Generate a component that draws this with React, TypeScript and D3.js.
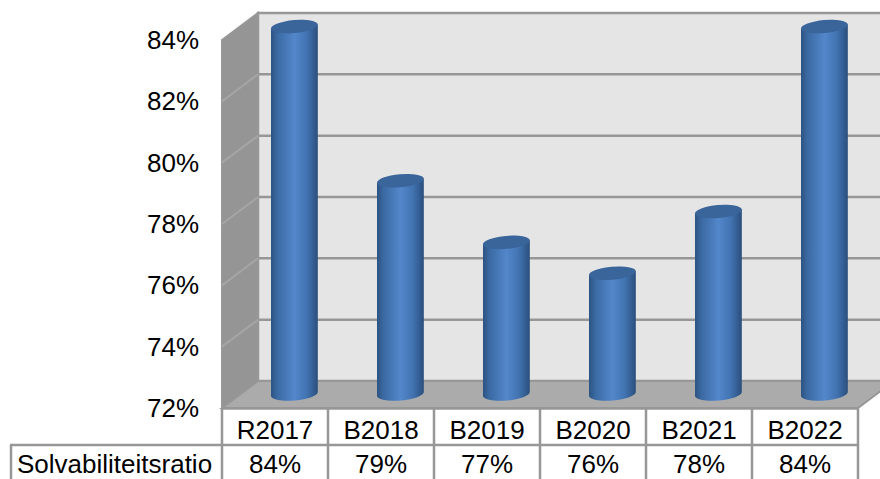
import React from "react";
import * as d3 from "d3";

// data
const categories = ["R2017", "B2018", "B2019", "B2020", "B2021", "B2022"];
const ratios = [84, 79, 77, 76, 78, 84];
const seriesName = "Solvabiliteitsratio";
const yTicks = [72, 74, 76, 78, 80, 82, 84];

const width = 880;
const height = 479;
const fontFamily = "'Liberation Sans', Arial, sans-serif";
const fontSize = 26;

// 3d offset of the back wall
const depthX = 36;
const depthY = -27;

const lineColor = "#979797";

const x = d3.scaleBand<string>().domain(categories).range([222, 858]);
const y = d3.scaleLinear().domain([72, 84]).range([408, 40]);
// the cylinders stand in the middle of the floor, their scale is a bit steeper
const yBar = d3.scaleLinear().domain([72, 84]).range([396.5, 26.6]);

const barWidth = 47;
const capRy = 6.5;
const capTilt = -5;

export default function App() {
  document.body.style.margin = "0";

  const pts = (p: number[][]) => p.map((d) => d.join(",")).join(" ");
  const left = x.range()[0];
  const right = x.range()[1];
  const top = y(84);
  const bottom = y(72);

  const rowY = [bottom + 0.5, bottom + 37, height + 4];

  return (
    <svg width={width} height={height} style={{ display: "block", background: "#fff" }} fontFamily={fontFamily}>
      <defs>
        <linearGradient id="cyl" x1="0" x2="1" y1="0" y2="0">
          <stop offset="0" stopColor="#2c5382" />
          <stop offset="0.14" stopColor="#3b6aa3" />
          <stop offset="0.5" stopColor="#5387cb" />
          <stop offset="0.76" stopColor="#4274b2" />
          <stop offset="1" stopColor="#2a4f7c" />
        </linearGradient>
      </defs>

      {/* walls */}
      <polygon
        points={pts([[left + depthX, top + depthY], [right + depthX, top + depthY], [right + depthX, bottom + depthY], [left + depthX, bottom + depthY]])}
        fill="#e5e5e5"
        stroke={lineColor}
        strokeWidth={2.5}
      />
      <polygon
        points={pts([[left, top], [left + depthX, top + depthY], [left + depthX, bottom + depthY], [left, bottom]])}
        fill="#959595"
        stroke={lineColor}
        strokeWidth={2}
      />
      <polygon
        points={pts([[left, bottom], [left + depthX, bottom + depthY], [right + depthX, bottom + depthY], [right, bottom]])}
        fill="#ababab"
        stroke={lineColor}
        strokeWidth={2}
      />

      {/* gridlines */}
      {yTicks.slice(1, -1).map((t) => (
        <g key={t} stroke={lineColor} strokeWidth={2.5} fill="none">
          <line x1={left + depthX} x2={right + depthX} y1={y(t) + depthY} y2={y(t) + depthY} />
          <line x1={left} x2={left + depthX} y1={y(t)} y2={y(t) + depthY} stroke="#a5a5a5" strokeWidth={2} />
        </g>
      ))}

      {/* y labels */}
      {yTicks.map((t) => (
        <text key={t} x={199} y={y(t)} dy="0.35em" textAnchor="end" fontSize={fontSize} fill="#000">
          {t}%
        </text>
      ))}

      {/* cylinders */}
      {categories.map((c, i) => {
        const cx = (x(c) as number) + x.bandwidth() / 2 + depthX / 2 + 1.4;
        const yTop = yBar(ratios[i]);
        const yBase = y(72) + depthY / 2 - 0.5;
        const r = barWidth / 2;
        const dy = r * Math.sin((-capTilt * Math.PI) / 180);
        const dx = r * Math.cos((-capTilt * Math.PI) / 180);
        const body =
          `M${cx - dx},${yTop + dy} L${cx - dx},${yBase + dy} ` +
          `A${r},${capRy} ${capTilt} 0 0 ${cx + dx},${yBase - dy} L${cx + dx},${yTop - dy} Z`;
        return (
          <g key={c}>
            <path d={body} fill="url(#cyl)" />
            <ellipse cx={cx} cy={yTop} rx={r} ry={capRy} fill="#3a659b" transform={`rotate(${capTilt} ${cx} ${yTop})`} />
          </g>
        );
      })}

      {/* data table */}
      <g stroke={lineColor} strokeWidth={2.5} fill="none">
        <line x1={left} x2={right} y1={rowY[0]} y2={rowY[0]} />
        <line x1={10} x2={right} y1={rowY[1]} y2={rowY[1]} />
        <line x1={11} x2={11} y1={rowY[1]} y2={rowY[2]} />
        {x.domain().map((c) => (
          <line key={c} x1={x(c)} x2={x(c)} y1={rowY[0]} y2={rowY[2]} />
        ))}
        <line x1={right} x2={right} y1={rowY[0]} y2={rowY[2]} />
      </g>
      <text x={17} y={472.5} fontSize={fontSize} fill="#000">
        {seriesName}
      </text>
      {categories.map((c, i) => {
        const cx = (x(c) as number) + x.bandwidth() / 2;
        return (
          <g key={c} textAnchor="middle" fontSize={fontSize} fill="#000">
            <text x={cx} y={438.5}>{c}</text>
            <text x={cx} y={472.5}>{ratios[i]}%</text>
          </g>
        );
      })}
    </svg>
  );
}
